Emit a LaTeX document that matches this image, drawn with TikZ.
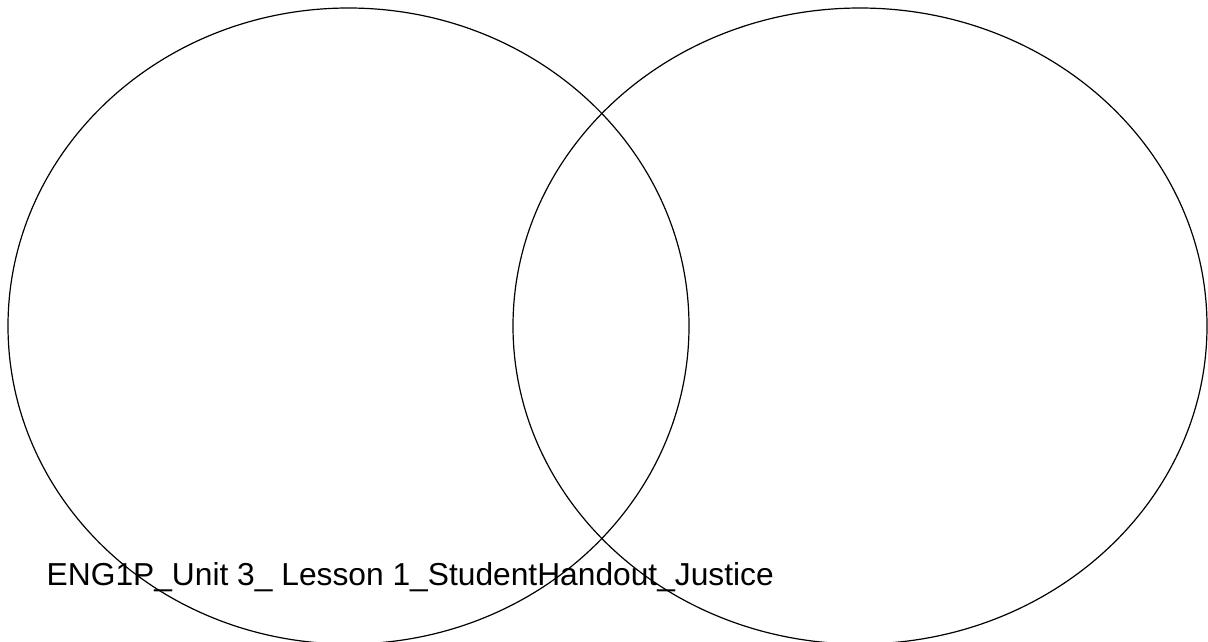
\documentclass[tikz,border=0pt]{standalone}
\usepackage{fontspec}
\setmainfont{Liberation Sans}
\usetikzlibrary{shapes.geometric, positioning}

\begin{document}
\begin{tikzpicture}[
    x=1pt, y=-1pt,
    setring/.style = {draw, ellipse, line width=1.2pt, inner sep=0pt, outer sep=0pt},
    caption/.style = {inner sep=0pt, anchor=base west,
                      font=\fontsize{31.75}{38}\selectfont},
]
\useasboundingbox (0,0) rectangle (1208,641);

%% Sets
\node[setring, minimum width=681pt, minimum height=636pt] (leftset)  at (348.5,326) {};
\node[setring, minimum width=694pt, minimum height=636pt] (rightset) at (860,326)   {};

%% Footer
\node[caption] (footer) at (46.5,585) {ENG1P\_Unit 3\_ Lesson 1\_StudentHandout\_Justice};

\end{tikzpicture}
\end{document}
